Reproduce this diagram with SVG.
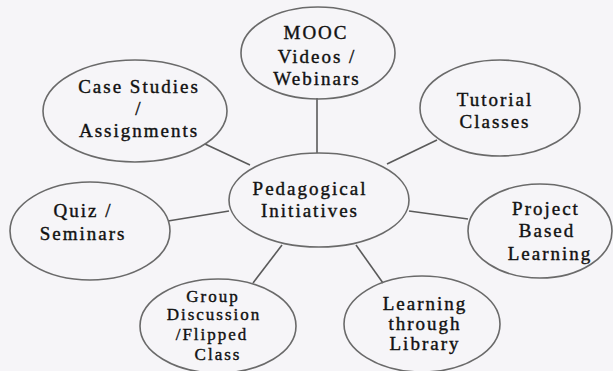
<svg xmlns="http://www.w3.org/2000/svg" width="613" height="371" viewBox="0 0 613 371">
<style>
.bg{fill:#f6f5f8}
.n ellipse{fill:none;stroke:#6a6a6a;stroke-width:1.6}
.c line{stroke:#5a5a5a;stroke-width:1.6}
text{font-family:"Liberation Serif","Times New Roman",serif;font-size:19px;fill:#111;stroke:#111;stroke-width:0.4;text-anchor:middle;letter-spacing:2px}
.s text{font-size:17px}
</style>
<rect class="bg" x="0" y="0" width="613" height="371"/>
<g id="connectors" class="c">
<line x1="317" y1="98" x2="317" y2="153"/>
<line x1="205" y1="144" x2="250" y2="165"/>
<line x1="437" y1="140" x2="387" y2="164"/>
<line x1="168" y1="221" x2="229" y2="211"/>
<line x1="253" y1="283" x2="282" y2="245"/>
<line x1="409" y1="211" x2="468" y2="219"/>
<line x1="356" y1="245" x2="383" y2="283"/>
</g>
<g id="center" class="n">
<ellipse cx="319" cy="200" rx="90" ry="47"/>
<text x="310" y="195">Pedagogical</text>
<text x="310" y="217">Initiatives</text>
</g>
<g id="mooc" class="n">
<ellipse cx="318" cy="53" rx="77" ry="46"/>
<text x="316" y="39">MOOC</text>
<text x="317" y="63">Videos /</text>
<text x="317" y="85">Webinars</text>
</g>
<g id="case" class="n">
<ellipse cx="135" cy="111" rx="92" ry="51"/>
<text x="139" y="93">Case Studies</text>
<text x="139" y="115">/</text>
<text x="139" y="137">Assignments</text>
</g>
<g id="tutorial" class="n">
<ellipse cx="500" cy="108" rx="80" ry="48"/>
<text x="495" y="106">Tutorial</text>
<text x="495" y="128">Classes</text>
</g>
<g id="quiz" class="n">
<ellipse cx="90" cy="231" rx="80" ry="49"/>
<text x="83" y="217">Quiz /</text>
<text x="83" y="240">Seminars</text>
</g>
<g id="group" class="n s">
<ellipse cx="218" cy="326" rx="78" ry="47"/>
<text x="213" y="302">Group</text>
<text x="214" y="320">Discussion</text>
<text x="212" y="340">/Flipped</text>
<text x="218" y="360">Class</text>
</g>
<g id="project" class="n">
<ellipse cx="540" cy="231" rx="72" ry="47"/>
<text x="546" y="215">Project</text>
<text x="547" y="237">Based</text>
<text x="550" y="260">Learning</text>
</g>
<g id="library" class="n">
<ellipse cx="422" cy="324" rx="78" ry="48"/>
<text x="425" y="310">Learning</text>
<text x="425" y="330">through</text>
<text x="425" y="350">Library</text>
</g>
</svg>
